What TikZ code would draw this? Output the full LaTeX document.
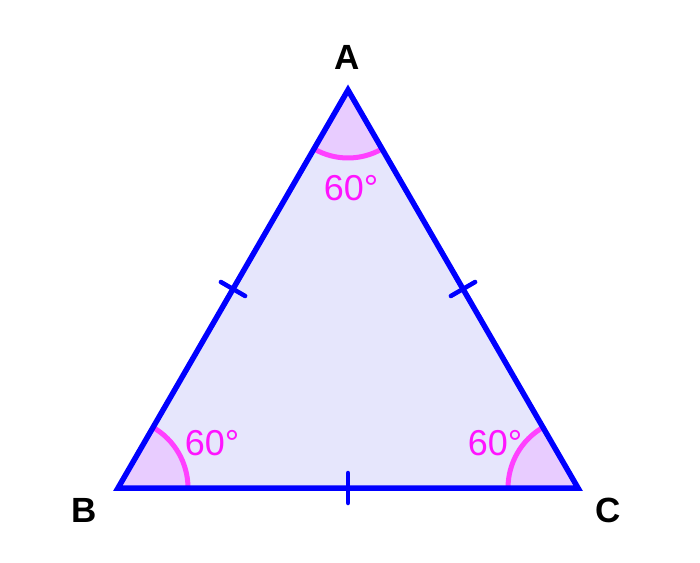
\documentclass[tikz,border=0pt]{standalone}
\usepackage{fontspec}
\setmainfont{Liberation Sans}
\usetikzlibrary{calc}
\definecolor{edgeblue}{RGB}{0,0,255}
\definecolor{triFill}{RGB}{230,230,252}
\definecolor{secFill}{RGB}{232,204,255}
\definecolor{arcMag}{RGB}{255,64,255}
\definecolor{txtMag}{RGB}{255,20,255}
\tikzset{
  edge/.style={draw=edgeblue,line width=5.5pt},
  tick/.style={draw=edgeblue,line width=4.5pt,line cap=round},
  anglearc/.style={draw=arcMag,line width=5pt},
  vlabel/.style={font=\fontsize{35}{40}\selectfont\bfseries,text=black,inner sep=0pt},
  alabel/.style={font=\fontsize{36}{40}\selectfont,text=txtMag,inner sep=0pt}
}
\begin{document}
\begin{tikzpicture}[x=1pt,y=1pt]
\useasboundingbox (0,0) rectangle (700,562);
\coordinate (A) at (348,472);
\coordinate (B) at (118,74);
\coordinate (C) at (578,74);
\fill[triFill] (A) -- (B) -- (C) -- cycle;
% sectors
\fill[secFill] (A) -- ++(240:68) arc (240:300:68) -- cycle;
\fill[secFill] (B) -- ++(0:70) arc (0:60:70) -- cycle;
\fill[secFill] (C) -- ++(120:70) arc (120:180:70) -- cycle;
\draw[anglearc] (A) ++(240:68) arc (240:300:68);
\draw[anglearc] (B) ++(0:70) arc (0:60:70);
\draw[anglearc] (C) ++(120:70) arc (120:180:70);
\draw[edge] (A) -- (B) -- (C) -- cycle;
% ticks
\coordinate (mAB) at ($(A)!0.5!(B)$);
\coordinate (mAC) at ($(A)!0.5!(C)$);
\coordinate (mBC) at ($(B)!0.5!(C)$);
\draw[tick] ($(mAB)!14pt!90:(A)$) -- ($(mAB)!14pt!-90:(A)$);
\draw[tick] ($(mAC)!14pt!90:(A)$) -- ($(mAC)!14pt!-90:(A)$);
\draw[tick] ($(mBC)!15pt!90:(C)$) -- ($(mBC)!15pt!-90:(C)$);
% labels
\node[vlabel] (lA) at (347,505) {A};
\node[vlabel] (lB) at (84,52) {B};
\node[vlabel] (lC) at (608,52) {C};
\node[alabel] (aA) at (351,374) {60°};
\node[alabel] (aB) at (212,119) {60°};
\node[alabel] (aC) at (495,119) {60°};
\end{tikzpicture}
\end{document}
